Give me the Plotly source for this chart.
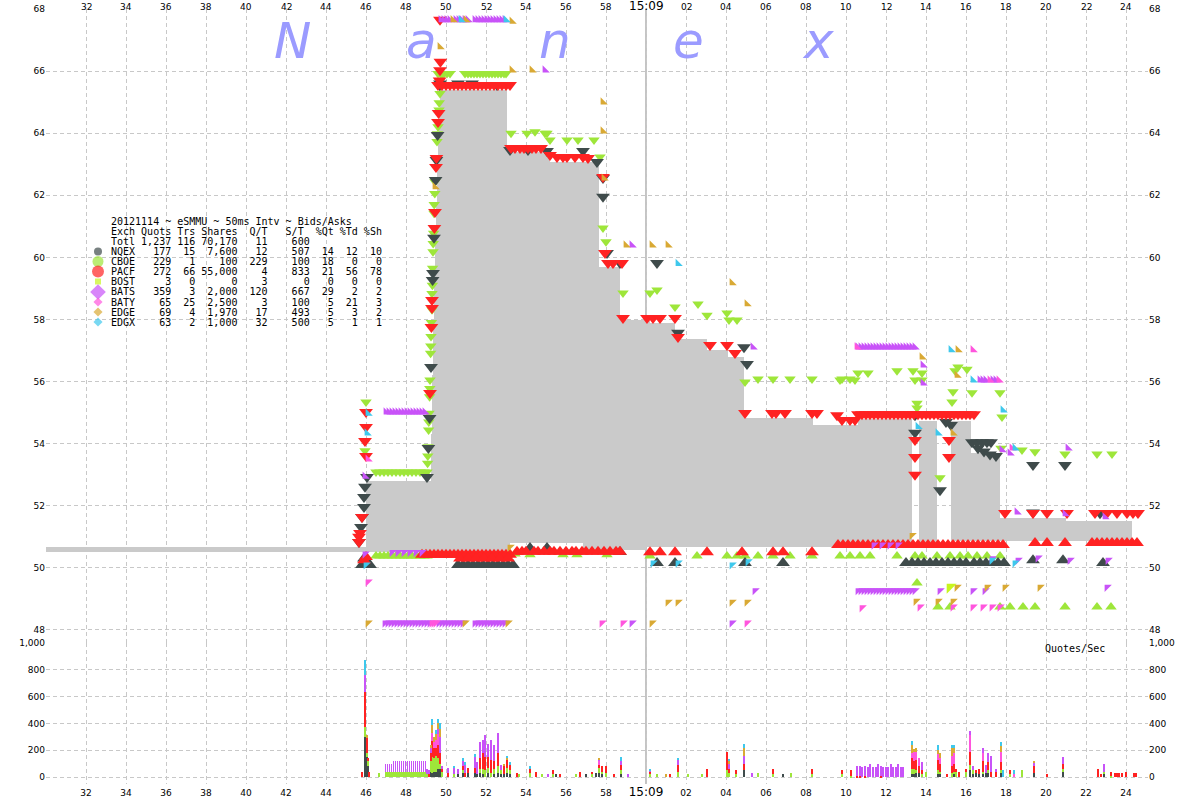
import plotly.graph_objects as go

# ---------------------------------------------------------------- layout frame
W, H = 1200, 800
ML, MR, MT, MB = 46, 52, 9, 16
PW, PH = W - ML - MR, H - MT - MB
SPLIT_PX = 643                      # pixel row where lower panel starts
SPLIT = (H - MB - SPLIT_PX) / PH

T_RANGE = [30.0, 85.1]              # seconds after 15:08:00
P_RANGE = [47.581, 68.0]            # price
Q_RANGE = [-52, 1000]               # quotes / sec

# ---------------------------------------------------------------- axis ticks
TICK_SECONDS = [32, 34, 36, 38, 40, 42, 44, 46, 48, 50, 52, 54, 56, 58, 60,
                62, 64, 66, 68, 70, 72, 74, 76, 78, 80, 82, 84]
TICK_LABELS = ["32", "34", "36", "38", "40", "42", "44", "46", "48", "50", "52", "54",
               "56", "58", "15:09", "02", "04", "06", "08", "10", "12", "14", "16",
               "18", "20", "22", "24"]
PRICE_TICKS = [48, 50, 52, 54, 56, 58, 60, 62, 64, 66, 68]
QPS_TICKS = [0, 200, 400, 600, 800, 1000]
QPS_TICK_LABELS = ["0", "200", "400", "600", "800", "1,000"]

# ---------------------------------------------------------------- summary table
EXCHANGES = ["NQEX", "CBOE", "PACF", "BOST", "BATS", "BATY", "EDGE", "EDGX"]
QUOTS = [177, 229, 272, 3, 359, 65, 69, 63]
TRADES = [15, 1, 66, 0, 3, 25, 4, 2]
SHARES = [7600, 100, 55000, 0, 2000, 2500, 1970, 1000]
Q_PER_T = [12, 229, 4, 3, 120, 3, 17, 32]
S_PER_T = [507, 100, 833, 0, 667, 100, 493, 500]
PCT_QT = [14, 18, 21, 0, 29, 5, 5, 5]
PCT_TD = [12, 0, 56, 0, 2, 21, 3, 1]
PCT_SH = [10, 0, 78, 0, 2, 3, 2, 1]
TOTAL_ROW = [1237, 116, 70170, 11, 600]

COLORS = {"NQEX": "#3f4b4b", "CBOE": "#9ee63a", "PACF": "#ff2222", "BOST": "#c8f51e",
          "BATS": "#c853f8", "BATY": "#ff55dd", "EDGE": "#d9a934", "EDGX": "#3ec8ec"}
GRAY = "#cacaca"

# ---------------------------------------------------------------- NBBO (gray band)
NBBO_START = [30.0, 46.0, 49.25, 49.3, 49.35, 49.4, 49.45, 49.5, 49.55, 49.6, 49.65,
              49.7, 53.05, 53.2, 55.2, 56.85, 57.65, 58.7, 60.0, 60.2, 61.45,
              63.05, 64.1, 64.9, 68.35, 70.6, 73.65, 75.25, 76.25, 77.7, 81.0]
NBBO_END = [46.0, 49.25, 49.3, 49.35, 49.4, 49.45, 49.5, 49.55, 49.6, 49.65, 49.7,
            53.05, 53.2, 55.2, 56.85, 57.65, 58.7, 60.0, 60.2, 61.45, 63.05,
            64.1, 64.9, 68.35, 70.6, 73.3, 74.55, 76.25, 77.7, 81.0, 84.3]
NBBO_BID = [50.50, 50.52, 50.52, 50.52, 50.52, 50.52, 50.52, 50.52, 50.52, 50.52, 50.52,
            50.52, 50.52, 50.79, 50.79, 50.58, 50.58, 50.58, 50.66, 50.66, 50.66,
            50.66, 50.66, 50.66, 50.66, 50.70, 50.79, 50.87, 50.87, 50.87, 50.87]
NBBO_ASK = [50.66, 52.80, 54.3, 56.2, 57.7, 59.1, 60.5, 61.8, 62.9, 63.9, 64.8,
            65.39, 63.40, 63.40, 63.08, 63.08, 59.70, 57.98, 57.98, 57.89, 57.37,
            57.02, 56.80, 54.82, 54.60, 54.79, 54.73, 54.73, 53.69, 51.62, 51.51]


def at(price, times):
    return [(t, price) for t in times]


# ---------------------------------------------------------------- quotes (time, price)
NQEX_ASKS = [
    (46.05, 52.93), (45.95, 52.61), (45.9, 52.28), (45.9, 51.96), (45.8, 51.64), (45.75, 51.32),
    (45.65, 50.83), (49.68, 65.55), (49.58, 63.94), (49.52, 63.14), (49.48, 62.49), (49.4, 60.63),
    (49.35, 59.5), (49.33, 59.27), (49.25, 56.47), (49.18, 54.83), (49.12, 53.86), (49.05, 52.93),
    (49.7, 65.6), (50.6, 65.6), (51.3, 65.6), (52.55, 65.55), (53.2, 63.46), (54.1, 63.46),
    (55.05, 63.43), (56.85, 63.43), (57.55, 63.07), (57.85, 62.56), (57.85, 61.95), (58.05, 60.14),
    (58.7, 59.82), (60.55, 59.82), (61.6, 57.57), (64.9, 57.11), (65.05, 56.57),
    (73.45, 54.92), (73.45, 54.35), (75.0, 54.7), (75.25, 54.6), (74.7, 52.5),
    (76.3, 54.05), (76.55, 54.05), (76.8, 54.05), (77.05, 54.05), (77.25, 54.05),
    (76.6, 53.85), (76.9, 53.75), (77.2, 53.65), (77.5, 53.6),
    (79.35, 53.31), (80.95, 53.31), (79.35, 51.78), (82.7, 51.76),
]
NQEX_BIDS = (
    [(45.8, 50.09), (46.2, 50.09), (45.9, 50.3)]
    + at(50.09, [50.6, 50.85, 51.1, 51.35, 51.6, 51.85, 52.1, 52.35, 52.6, 52.85, 53.1, 53.35])
    + [(54.2, 50.64), (55.05, 50.64), (58.7, 50.51),
       (60.55, 50.16), (61.45, 50.16), (64.95, 50.16), (66.85, 50.16)]
    + at(50.16, [73.0, 73.3, 73.6, 73.9, 74.2, 74.5, 74.8, 75.1, 75.4, 75.7, 76.0,
                 76.4, 76.7, 77.0, 77.3, 77.6, 77.9, 82.85])
    + [(79.35, 50.25), (80.85, 50.25)]
)

CBOE_ROW_TIMES = [46.5, 46.7, 46.9, 47.1, 47.3, 47.5, 47.7, 47.9, 48.1, 48.3, 48.5, 48.7, 48.9, 49.05]
CBOE_ASKS = (
    [(46.0, 55.34), (45.95, 53.77),
     (49.78, 65.87), (49.72, 65.5), (49.7, 65.28), (49.66, 64.98), (49.65, 64.75), (49.6, 64.21),
     (49.57, 63.98), (49.55, 63.73), (49.51, 63.2), (49.5, 62.92), (49.45, 62.44), (49.44, 62.06),
     (49.41, 61.7), (49.4, 61.42), (49.38, 60.78), (49.36, 60.45), (49.35, 60.18), (49.33, 59.65),
     (49.32, 59.1), (49.3, 58.84), (49.3, 58.31), (49.27, 57.9), (49.25, 57.45), (49.24, 57.15),
     (49.23, 56.91), (49.2, 56.05), (49.19, 55.78), (49.18, 55.51), (49.15, 54.98), (49.14, 54.7),
     (49.13, 54.44), (49.1, 53.9), (49.09, 53.6), (49.08, 53.37)]
    + at(53.09, CBOE_ROW_TIMES)
    + at(65.92, [49.6, 49.75, 49.9, 50.05, 50.2, 50.95, 51.1, 51.25, 51.4, 51.55, 51.7, 51.85,
                 52.0, 52.15, 52.3, 52.45, 52.6, 52.75, 52.9, 53.0])
    + [(53.25, 64.0), (54.05, 64.0), (54.45, 64.05), (54.95, 64.0), (55.05, 64.0), (55.2, 63.78),
       (56.05, 63.78), (56.6, 63.78), (57.4, 63.78), (57.7, 63.23), (57.85, 60.95), (58.0, 60.5),
       (58.85, 58.85), (60.2, 58.85), (60.55, 58.95), (61.45, 58.4), (62.6, 58.5), (63.05, 58.14),
       (64.05, 58.21), (64.15, 57.98), (64.55, 57.98), (64.95, 55.99),
       (65.6, 56.08), (66.35, 56.08), (67.2, 56.08), (68.3, 56.08), (69.8, 56.08), (70.2, 56.08),
       (69.7, 56.05), (70.45, 56.05), (70.6, 56.28), (71.1, 56.28), (72.55, 56.35), (73.35, 56.35),
       (73.8, 56.28), (73.45, 56.05), (73.8, 56.05), (73.55, 55.3), (73.55, 55.15), (74.7, 52.9),
       (75.6, 56.47), (76.05, 56.4), (75.45, 56.35), (75.35, 55.67), (76.3, 55.64), (77.7, 55.64),
       (75.3, 55.34), (77.8, 54.86), (77.75, 53.85), (78.8, 53.8), (79.45, 53.74), (80.95, 53.67),
       (82.55, 53.67), (83.3, 53.67)]
)
CBOE_BIDS = (
    at(50.38, CBOE_ROW_TIMES)
    + [(53.2, 50.45), (53.45, 50.45), (54.2, 50.42), (55.85, 50.42), (56.55, 50.42), (58.05, 50.42)]
    + at(50.38, [60.2, 62.55, 64.05, 64.55, 64.95, 65.6, 66.35, 67.2, 68.3, 69.7, 70.2, 70.7,
                 71.2, 72.55, 73.45, 73.8, 74.55, 75.2, 75.7, 76.1, 76.55, 77.05, 77.7])
    + [(73.55, 49.51)]
    + at(48.74, [74.6, 75.2, 77.7, 78.2, 78.85, 79.45, 80.95, 82.55, 83.25])
)

PACF_ASKS = (
    [(46.0, 55.02), (46.0, 54.54), (45.95, 54.09), (46.0, 53.6), (45.8, 51.64), (45.7, 51.12),
     (45.65, 50.83), (45.65, 51.0),
     (49.72, 66.3), (49.7, 66.03), (49.68, 65.7), (49.63, 64.65), (49.6, 64.36), (49.52, 63.2),
     (49.5, 62.91), (49.45, 61.46), (49.42, 60.95), (49.3, 58.63), (49.3, 58.37), (49.27, 57.76),
     (49.2, 55.63), (49.7, 67.65)]
    + at(65.55, [49.6, 49.8, 50.0, 50.2, 50.4, 50.6, 50.8, 51.0, 51.2, 51.4, 51.6, 51.8,
                 52.0, 52.2, 52.4, 52.6, 52.8, 53.0, 53.2])
    + at(63.52, [53.25, 53.45, 53.7, 53.9, 54.1, 54.3, 54.5, 54.75])
    + [(55.2, 63.3), (55.55, 63.23), (55.85, 63.23), (56.05, 63.23), (56.45, 63.23), (56.85, 63.23),
       (57.1, 63.2), (57.85, 62.59), (57.95, 60.14), (58.1, 59.82), (58.35, 59.82), (58.8, 59.82),
       (58.85, 58.05), (60.05, 58.05), (60.35, 58.05), (60.7, 58.05), (61.45, 58.05), (61.6, 57.44),
       (63.2, 57.18), (64.05, 57.18), (64.45, 56.92),
       (64.95, 54.99), (66.3, 54.99), (66.5, 54.99), (66.95, 54.99), (68.3, 54.99), (68.55, 54.99),
       (69.55, 54.92), (69.8, 54.76), (70.2, 54.76), (70.45, 54.76)]
    + at(54.95, [70.6, 70.8, 71.0, 71.2, 71.4, 71.6, 71.8, 72.0, 72.2, 72.4, 72.6, 72.8, 73.0,
                 73.2, 73.4, 73.6, 73.8, 74.0, 74.2, 74.4, 74.6, 74.8, 75.0, 75.2, 75.4, 75.6,
                 75.8, 76.0, 76.2, 76.4])
    + [(73.45, 53.57), (75.15, 53.57), (73.45, 53.0), (73.45, 54.12), (75.15, 54.12)]
    + at(51.77, [77.95, 79.35, 80.05, 81.05, 82.45, 83.05, 83.55, 84.05, 84.35, 84.6])
)
PACF_BIDS = (
    [(45.9, 50.25), (46.0, 50.35)]
    + at(50.42, [48.8, 49.0, 49.2, 49.4, 49.6, 49.8, 50.0, 50.2, 50.4, 50.6, 50.8, 51.0, 51.2,
                 51.4, 51.6, 51.8, 52.0, 52.2, 52.4, 52.6, 52.8, 53.0, 53.2])
    + at(50.3, [50.7, 51.1, 51.5, 51.9, 52.3, 52.7, 53.1])
    + at(50.52, [53.55, 53.8, 54.0, 54.4, 54.6, 54.9, 55.2, 55.4, 55.7, 56.0, 56.3, 56.5, 56.8,
                 57.0, 57.3, 57.6, 57.9, 58.2, 58.5, 58.7])
    + at(50.5, [60.2, 60.7, 61.45, 63.05, 64.8, 66.35, 66.85, 68.3])
    + at(50.74, [69.6, 69.85, 70.1, 70.35, 70.6, 70.85, 71.1, 71.35, 71.6, 71.85, 72.1, 72.35,
                 72.6, 72.85, 73.1, 73.35, 73.6, 73.85, 74.1, 74.35, 74.6, 74.85, 75.1, 75.35,
                 75.6, 75.85, 76.1, 76.35, 76.6, 76.85, 77.1, 77.35, 77.6, 77.85])
    + at(50.8, [79.45, 80.05, 80.95, 82.3, 82.55, 82.8, 83.05, 83.3, 83.55, 83.8, 84.05, 84.3, 84.55])
)

BATS_ASKS = (
    at(55.02, [47.0, 47.15, 47.3, 47.45, 47.6, 47.75, 47.9, 48.05, 48.2, 48.35, 48.5, 48.65,
               48.8, 48.95])
    + at(67.65, [49.75, 49.9, 50.05, 50.2, 50.5, 50.65, 50.8, 50.95, 51.1, 51.45, 51.6, 51.75,
                 51.9, 52.05, 52.2, 52.35, 52.5, 52.65, 52.8, 52.95])
    + [(54.95, 66.03), (59.3, 60.4), (65.35, 57.11)]
    + at(57.11, [70.6, 70.75, 70.9, 71.05, 71.2, 71.35, 71.5, 71.65, 71.8, 71.95, 72.1, 72.25,
                 72.4, 72.55, 72.7, 72.85, 73.0, 73.15, 73.3, 73.45])
    + [(73.85, 56.53), (73.85, 55.95), (76.7, 56.05), (76.85, 56.05), (77.0, 56.05),
       (77.35, 56.05), (77.5, 56.05), (77.8, 53.8), (78.2, 53.7), (81.1, 53.86), (78.55, 51.8),
       (80.95, 51.74), (82.95, 51.64), (45.95, 52.95)]
)
BATS_BIDS = (
    at(48.23, [46.95, 47.1, 47.25, 47.4, 47.55, 47.7, 47.85, 48.0, 48.15, 48.3, 48.45, 48.6,
               48.75, 48.9, 49.05, 49.2, 49.65, 49.8, 49.95, 50.1, 50.25, 50.4, 50.55, 50.7,
               50.85, 51.45, 51.6, 51.75, 51.9, 52.05, 52.2, 52.35, 52.5, 52.65, 52.8, 52.95,
               59.3, 64.3])
    + at(50.5, [47.3, 47.6, 47.9, 48.2, 48.5, 48.8])
    + at(49.27, [70.6, 70.75, 70.9, 71.05, 71.2, 71.35, 71.5, 71.65, 71.8, 71.95, 72.1, 72.25,
                 72.4, 72.55, 72.7, 72.85, 73.0, 73.15, 73.3, 73.45, 74.7, 76.35, 76.95, 65.45])
    + [(78.6, 50.25), (79.6, 50.32), (81.2, 50.25), (83.1, 50.25), (77.3, 50.3), (83.05, 49.38),
       (71.4, 50.74), (71.8, 50.74), (72.2, 50.74), (72.6, 50.74), (45.95, 50.45)]
)

BATY_ASKS = [(46.1, 53.5), (76.35, 57.02), (77.2, 56.05), (77.65, 56.05), (78.3, 53.86), (70.55, 57.11)]
BATY_BIDS = [(46.1, 49.55), (49.3, 48.23), (49.4, 48.23), (49.5, 48.23), (57.8, 48.23), (58.85, 48.23),
             (65.05, 48.23), (70.8, 48.72), (73.7, 48.74), (75.35, 48.74), (76.35, 48.74),
             (76.85, 48.74), (77.3, 48.74), (77.7, 48.74)]

EDGE_ASKS = [(49.7, 66.78), (50.35, 67.65), (51.0, 67.65), (53.3, 67.6), (53.3, 66.03), (54.3, 66.03),
             (57.85, 65.0), (57.85, 64.07), (57.9, 62.55), (59.0, 60.4), (60.3, 60.4), (61.1, 60.4),
             (64.3, 59.18), (65.05, 58.5), (73.8, 56.79), (75.6, 57.02), (75.55, 56.2), (75.35, 54.34),
             (49.45, 62.27)]
EDGE_BIDS = [(46.1, 48.23), (50.95, 48.23), (53.1, 48.23), (53.2, 50.67), (60.3, 48.23), (61.1, 48.9),
             (61.6, 48.9), (64.3, 48.9), (65.05, 48.9), (73.5, 48.93), (74.6, 48.93), (75.35, 48.93),
             (75.55, 49.38), (77.05, 49.38), (77.95, 49.38), (79.7, 49.38), (73.3, 51.05)]

EDGX_ASKS = [(46.1, 54.98), (46.05, 54.34), (50.75, 67.65), (53.0, 67.65), (61.6, 59.8), (74.6, 54.34),
             (75.25, 57.02), (76.35, 56.05), (77.85, 55.08), (78.45, 53.86), (73.6, 54.55)]
EDGX_BIDS = [(46.0, 50.1), (60.35, 50.16), (61.6, 50.16), (64.3, 50.1), (65.1, 50.2), (77.3, 50.25),
             (78.45, 50.16)]

BOST_BIDS = [(75.2, 49.38)]

# ---------------------------------------------------------------- quotes / sec (time, value)
# 50 ms bins 15:08:46.95 - 48.95: BATS spikes on every second bin, CBOE in every bin
COMB_A = [46.975, 47.075, 47.175, 47.275, 47.375, 47.475, 47.575, 47.675, 47.775, 47.875, 47.975,
          48.075, 48.175, 48.275, 48.375, 48.475, 48.575, 48.675, 48.775, 48.875, 48.975]
COMB_A_GAPS = [47.025, 47.125, 47.225, 47.325, 47.425, 47.525, 47.625, 47.725, 47.825, 47.925,
               48.025, 48.125, 48.225, 48.325, 48.425, 48.525, 48.625, 48.725, 48.825, 48.925]

QPS_NQEX = [(45.95, 300), (46.03, 150), (46.1, 80), (49.25, 40), (49.3, 30), (49.4, 40), (49.5, 40),
            (49.6, 60), (49.7, 60), (50.6, 20), (50.85, 30), (51.1, 30), (51.45, 30), (51.55, 20),
            (51.7, 30), (51.85, 20), (52.1, 30), (52.4, 20), (52.6, 30), (52.75, 20), (52.9, 20),
            (53.05, 30), (53.2, 20), (55.5, 20), (57.0, 20), (57.5, 30), (57.65, 30), (57.8, 20),
            (58.75, 20), (64.9, 50), (66.85, 25), (73.3, 20), (73.4, 20), (73.5, 30), (73.65, 30),
            (74.6, 20), (74.7, 20), (75.4, 20), (76.2, 50), (76.35, 20), (76.5, 30), (76.65, 20),
            (76.85, 20), (77.0, 30), (77.1, 30), (77.75, 30), (79.4, 30), (80.85, 40), (82.9, 30)]
QPS_CBOE = ([(45.95, 75), (46.03, 30), (46.1, 40), (46.65, 30)]
            + [(t, 35) for t in COMB_A] + [(t, 35) for t in COMB_A_GAPS]
            + [(49.05, 20), (49.25, 80), (49.3, 120), (49.4, 100), (49.5, 120), (49.6, 80), (49.7, 40),
               (49.8, 40), (50.4, 20), (50.85, 20), (51.7, 30), (51.85, 40), (51.95, 50), (52.1, 40),
               (52.25, 30), (52.4, 40), (52.6, 50), (52.75, 30), (53.05, 40), (53.2, 30), (53.65, 20),
               (54.2, 30), (54.8, 20), (55.35, 20), (56.5, 20), (57.3, 20), (57.65, 40), (57.8, 20),
               (58.0, 30), (58.75, 30), (60.2, 20), (60.55, 20), (61.6, 40), (62.1, 20), (62.8, 20),
               (64.05, 50), (64.15, 30), (64.5, 20), (65.6, 30), (66.35, 20), (67.25, 30), (68.3, 20),
               (69.8, 20), (70.25, 10), (73.3, 40), (73.4, 40), (73.5, 20), (73.8, 20), (74.0, 40),
               (74.6, 30), (74.7, 20), (75.3, 30), (75.4, 20), (75.5, 40), (76.0, 40), (76.2, 40),
               (76.35, 30), (76.85, 20), (77.1, 20), (77.75, 20), (78.2, 20), (78.8, 50), (80.85, 20),
               (82.9, 10), (83.25, 10)])
QPS_PACF = [(45.78, 40), (45.95, 262), (46.03, 110), (46.1, 20), (46.15, 40), (49.15, 20), (49.25, 60),
            (49.3, 120), (49.4, 80), (49.5, 60), (49.6, 100), (49.7, 80), (49.8, 20), (50.1, 30),
            (50.85, 30), (50.95, 30), (51.1, 40), (51.45, 40), (51.7, 80), (51.85, 120), (51.95, 100),
            (52.1, 80), (52.25, 100), (52.4, 60), (52.6, 100), (52.9, 60), (53.05, 60), (53.2, 40),
            (53.55, 30), (54.2, 30), (54.5, 40), (55.35, 30), (55.7, 20), (56.7, 40), (57.3, 20),
            (57.65, 20), (57.8, 40), (58.0, 50), (58.4, 20), (58.75, 40), (60.2, 20), (61.2, 20),
            (61.6, 50), (63.05, 60), (64.05, 140), (64.15, 30), (64.5, 30), (64.9, 50), (66.35, 40),
            (68.3, 40), (69.8, 30), (70.25, 40), (70.55, 10), (70.7, 10), (70.95, 10), (71.75, 10),
            (73.3, 80), (73.4, 60), (73.5, 80), (73.65, 50), (73.8, 30), (74.6, 80), (74.7, 60),
            (75.05, 20), (75.3, 50), (75.4, 60), (75.5, 20), (75.65, 40), (76.0, 20), (76.2, 100),
            (76.5, 20), (76.65, 40), (76.85, 80), (77.1, 60), (77.25, 40), (77.5, 40), (77.75, 60),
            (78.2, 30), (79.4, 50), (80.05, 20), (80.85, 40), (82.6, 60), (82.75, 20), (83.25, 30),
            (83.45, 30), (83.55, 30), (83.65, 30), (83.8, 30), (84.0, 40), (84.4, 30), (84.5, 30)]
QPS_BATY = [(49.3, 60), (49.4, 40), (49.5, 60), (49.6, 80), (57.65, 30), (73.3, 40), (73.4, 70),
            (73.5, 60), (73.65, 60), (74.6, 40), (74.7, 40), (75.3, 80), (75.4, 80), (76.2, 120),
            (76.85, 60), (77.75, 80), (78.4, 20)]
QPS_BATS = ([(45.95, 124)] + [(t, 62) for t in COMB_A[:4]] + [(t, 87) for t in COMB_A[4:]]
            + [(49.05, 40), (49.15, 30), (49.25, 40), (49.6, 40), (49.7, 120), (49.8, 20), (50.1, 40),
               (50.4, 50), (50.6, 40), (50.85, 40), (50.95, 60), (51.45, 80), (51.55, 90), (51.7, 120),
               (51.85, 100), (51.95, 160), (52.1, 100), (52.25, 150), (52.4, 120), (52.6, 150),
               (52.75, 40), (55.1, 20), (57.65, 10), (58.75, 30), (59.1, 20), (60.2, 10), (61.6, 40),
               (64.15, 40), (64.9, 60), (65.3, 30)]
            + [(70.55, 70), (70.7, 70), (70.8, 75), (70.95, 70), (71.1, 75), (71.2, 100), (71.35, 75),
               (71.5, 75), (71.6, 100), (71.75, 75), (71.85, 75), (72.0, 75), (72.1, 75), (72.25, 100),
               (72.35, 75), (72.5, 75), (72.6, 100), (72.75, 75), (72.85, 75)]
            + [(73.8, 60), (76.2, 30), (76.35, 30), (76.85, 40), (77.0, 60), (77.1, 70), (77.25, 120),
               (77.5, 20), (79.4, 30), (80.85, 50), (82.9, 60)])
QPS_EDGE = [(46.03, 20), (49.25, 20), (49.3, 60), (49.4, 40), (49.5, 40), (49.6, 40), (49.7, 60),
            (52.9, 20), (53.05, 10), (57.65, 10), (61.0, 20), (64.15, 20), (64.9, 60), (73.3, 60),
            (73.4, 20), (73.5, 30), (74.6, 30), (74.7, 40), (75.3, 60), (75.4, 40), (77.75, 40),
            (79.4, 10)]
QPS_EDGX = [(45.95, 112), (49.3, 40), (49.5, 30), (49.6, 30), (49.7, 40), (50.4, 10), (50.85, 20),
            (50.95, 20), (51.45, 20), (53.05, 20), (53.2, 20), (54.2, 20), (58.75, 30), (60.2, 10),
            (61.6, 10), (64.15, 10), (64.9, 30), (73.3, 30), (74.6, 40), (75.3, 20), (75.4, 20),
            (77.75, 30), (77.85, 50), (78.4, 30)]


# ---------------------------------------------------------------- helpers
def paper_x(px):
    return (px - ML) / PW


def paper_y(py):
    return (H - MB - py) / PH


def px_to_t(px):
    return T_RANGE[0] + (px - ML) / PW * (T_RANGE[1] - T_RANGE[0])


def py_to_p(py):
    return P_RANGE[1] - (py - MT) / (SPLIT_PX - MT) * (P_RANGE[1] - P_RANGE[0])


fig = go.Figure()

# NBBO gray band
fig.add_trace(go.Bar(
    x=[(s + e) / 2 for s, e in zip(NBBO_START, NBBO_END)],
    width=[e - s for s, e in zip(NBBO_START, NBBO_END)],
    base=NBBO_BID,
    y=[a - b for a, b in zip(NBBO_ASK, NBBO_BID)],
    marker=dict(color=GRAY, line=dict(width=0)),
    xaxis="x", yaxis="y", hoverinfo="skip", showlegend=False))


def add_quotes(pts, color, symbol, size):
    if not pts:
        return
    fig.add_trace(go.Scatter(
        x=[p[0] for p in pts], y=[p[1] for p in pts], mode="markers",
        marker=dict(symbol=symbol, size=size, color=color, line=dict(width=0)),
        xaxis="x", yaxis="y", hoverinfo="skip", showlegend=False))


add_quotes(CBOE_ASKS, COLORS["CBOE"], "triangle-down", 10)
add_quotes(CBOE_BIDS, COLORS["CBOE"], "triangle-up", 10)
add_quotes(NQEX_ASKS, COLORS["NQEX"], "triangle-down", 12)
add_quotes(NQEX_BIDS, COLORS["NQEX"], "triangle-up", 12)
add_quotes(PACF_ASKS, COLORS["PACF"], "triangle-down", 12)
add_quotes(PACF_BIDS, COLORS["PACF"], "triangle-up", 12)
add_quotes(BATS_ASKS, COLORS["BATS"], "triangle-sw", 8)
add_quotes(BATS_BIDS, COLORS["BATS"], "triangle-nw", 8)
add_quotes(BATY_ASKS, COLORS["BATY"], "triangle-sw", 8)
add_quotes(BATY_BIDS, COLORS["BATY"], "triangle-nw", 8)
add_quotes(EDGE_ASKS, COLORS["EDGE"], "triangle-sw", 8)
add_quotes(EDGE_BIDS, COLORS["EDGE"], "triangle-nw", 8)
add_quotes(EDGX_ASKS, COLORS["EDGX"], "triangle-sw", 8)
add_quotes(EDGX_BIDS, COLORS["EDGX"], "triangle-nw", 8)
add_quotes(BOST_BIDS, COLORS["BOST"], "triangle-nw", 11)

# legend markers of the summary table
LEGEND_SYMBOLS = ["circle", "circle", "circle", "square", "diamond", "diamond", "diamond", "diamond"]
LEGEND_SIZES = [8, 11, 12, 6, 12, 7, 7, 7]
ROW_PY = [251.5, 261.5, 271.5, 281.5, 292, 302, 312, 322]
fig.add_trace(go.Scatter(
    x=[px_to_t(98)] * len(EXCHANGES), y=[py_to_p(v) for v in ROW_PY], mode="markers",
    marker=dict(symbol=LEGEND_SYMBOLS, size=LEGEND_SIZES,
                color=[COLORS[e] for e in EXCHANGES], line=dict(width=0)),
    xaxis="x", yaxis="y", hoverinfo="skip", showlegend=False, cliponaxis=False))

# right-hand duplicate axes need a trace each
fig.add_trace(go.Scatter(x=[T_RANGE[0]], y=[P_RANGE[0]], mode="markers", marker=dict(opacity=0),
                         xaxis="x", yaxis="y3", hoverinfo="skip", showlegend=False))
fig.add_trace(go.Scatter(x=[T_RANGE[0]], y=[0], mode="markers", marker=dict(opacity=0),
                         xaxis="x2", yaxis="y4", hoverinfo="skip", showlegend=False))

# quotes/sec stacked bars
for name, series in [("NQEX", QPS_NQEX), ("CBOE", QPS_CBOE), ("PACF", QPS_PACF),
                     ("BATY", QPS_BATY), ("BATS", QPS_BATS), ("EDGE", QPS_EDGE), ("EDGX", QPS_EDGX)]:
    fig.add_trace(go.Bar(
        x=[s[0] for s in series], y=[s[1] for s in series], width=0.045,
        marker=dict(color=COLORS[name], line=dict(width=0)),
        xaxis="x2", yaxis="y2", hoverinfo="skip", showlegend=False))

# ---------------------------------------------------------------- annotations
ann = []
NB = "\u00a0"


def mono(s):
    return s.replace(" ", NB)


lines = ["20121114 ~ eSMMU ~ 50ms Intv ~ Bids/Asks",
         "Exch Quots Trs Shares  Q/T   S/T  %Qt %Td %Sh",
         "{:<4} {:>5} {:>3} {:>6}{:>5}{:>7}".format("Totl", f"{TOTAL_ROW[0]:,}", TOTAL_ROW[1],
                                                   f"{TOTAL_ROW[2]:,}", TOTAL_ROW[3], TOTAL_ROW[4])]
for i, e in enumerate(EXCHANGES):
    lines.append("{:<4} {:>5} {:>3} {:>6}{:>5}{:>7}{:>4}{:>4}{:>4}".format(
        e, f"{QUOTS[i]:,}", TRADES[i], f"{SHARES[i]:,}", Q_PER_T[i], S_PER_T[i],
        PCT_QT[i], PCT_TD[i], PCT_SH[i]))
LINE_PY = [221, 231.5, 241.5] + ROW_PY
for txt, py in zip(lines, LINE_PY):
    ann.append(dict(text=mono(txt), xref="paper", yref="paper", x=paper_x(109), y=paper_y(py),
                    xanchor="left", yanchor="middle", showarrow=False,
                    font=dict(family="DejaVu Sans Mono", size=10, color="black")))

# top time labels
for v, lab in zip(TICK_SECONDS, TICK_LABELS):
    big = lab == "15:09"
    ann.append(dict(text=lab, xref="x", yref="paper", x=v, y=1, yanchor="bottom",
                    yshift=-5 if not big else -6, showarrow=False,
                    font=dict(family="DejaVu Sans", size=12 if big else 9, color="black")))

# watermark
for ch, px in zip("Nanex", [292, 421, 555, 688, 818]):
    ann.append(dict(text=f"<i>{ch}</i>", xref="paper", yref="paper", x=paper_x(px), y=paper_y(41),
                    xanchor="center", yanchor="middle", showarrow=False,
                    font=dict(family="DejaVu Sans", size=50, color="#9b9bff")))

ann.append(dict(text="Quotes/Sec", xref="paper", yref="paper", x=paper_x(1043), y=paper_y(648),
                xanchor="left", yanchor="middle", showarrow=False,
                font=dict(family="DejaVu Sans Mono", size=10, color="black")))

bottom_ticktext = [f"<span style='font-size:12px'>{l}</span>" if l == "15:09" else l
                   for l in TICK_LABELS]

GRID = dict(showgrid=True, gridcolor="#c8c8c8", griddash="4px,3px", gridwidth=1,
            zeroline=False, showline=False, ticks="", automargin=False)
TICKFONT = dict(family="DejaVu Sans", size=9, color="black")

fig.update_layout(
    width=W, height=H, autosize=False,
    margin=dict(l=ML, r=MR, t=MT, b=MB, pad=0, autoexpand=False),
    paper_bgcolor="white", plot_bgcolor="white",
    barmode="stack", bargap=0,
    showlegend=False,
    xaxis=dict(domain=[0, 1], range=T_RANGE, anchor="y", tickvals=TICK_SECONDS,
               showticklabels=False, **GRID),
    yaxis=dict(domain=[SPLIT, 1], range=P_RANGE, anchor="x", tickvals=PRICE_TICKS,
               tickfont=TICKFONT, side="left", **GRID),
    yaxis3=dict(overlaying="y", range=P_RANGE, anchor="x", side="right", tickvals=PRICE_TICKS,
                tickfont=TICKFONT, showgrid=False, zeroline=False, showline=False, ticks="",
                automargin=False),
    xaxis2=dict(domain=[0, 1], range=T_RANGE, anchor="y2", tickvals=TICK_SECONDS,
                ticktext=bottom_ticktext, tickfont=TICKFONT, side="bottom",
                ticklabelstandoff=2, **GRID),
    yaxis2=dict(domain=[0, SPLIT], range=Q_RANGE, anchor="x2", tickvals=QPS_TICKS,
                ticktext=QPS_TICK_LABELS, tickfont=TICKFONT, side="left", **GRID),
    yaxis4=dict(overlaying="y2", range=Q_RANGE, anchor="x2", side="right", tickvals=QPS_TICKS,
                ticktext=QPS_TICK_LABELS, tickfont=TICKFONT, showgrid=False, zeroline=False,
                showline=False, ticks="", automargin=False),
    annotations=ann,
    shapes=[dict(type="line", xref="x", yref="paper", x0=60, x1=60, y0=0, y1=1,
                 line=dict(color="#c4c4c4", width=2), layer="below")],
)

fig.write_html(
    "out.html",
    config={"displayModeBar": False},
    post_script="document.body.style.margin='0';document.body.style.padding='0';"
                "document.documentElement.style.margin='0';",
)
